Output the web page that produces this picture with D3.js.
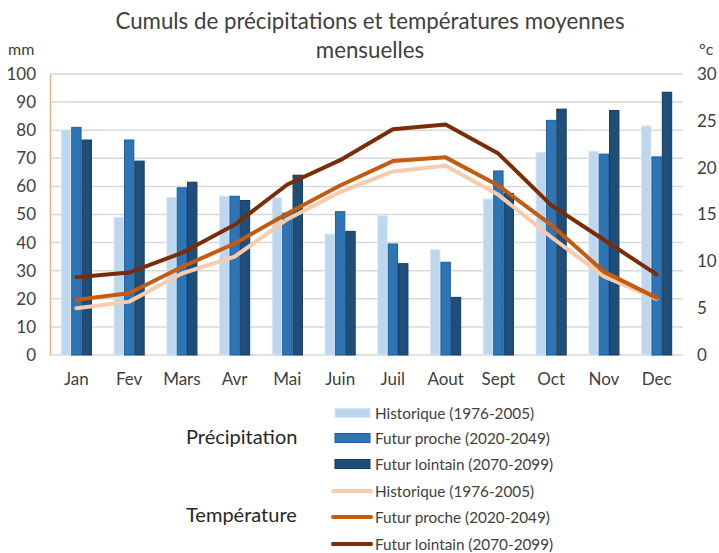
<!DOCTYPE html>
<html>
<head>
<meta charset="utf-8">
<script src="https://cdn.jsdelivr.net/npm/d3@7.9.0/dist/d3.min.js"></script>
<style>
  body { margin: 0; background: #fff; }
  svg { font-family: Lato, "Open Sans", sans-serif; }
</style>
</head>
<body>
<svg id="chart" width="719" height="553"></svg>
<script>
// months on the x axis
const months = ['Jan', 'Fev', 'Mars', 'Avr', 'Mai', 'Juin', 'Juil', 'Aout', 'Sept', 'Oct', 'Nov', 'Dec'];

// precipitation (mm)
const precipHisto = [80, 49, 56, 56.5, 56, 43, 49.5, 37.5, 55.5, 72, 72.5, 81.5];
const precipProche = [81, 76.5, 59.5, 56.5, 50.5, 51, 39.5, 33, 65.5, 83.5, 71.5, 70.5];
const precipLointain = [76.5, 69, 61.5, 55, 64, 44, 32.5, 20.5, 57.5, 87.5, 87, 93.5];

// temperature (°C)
const tempHisto = [5.0, 5.7, 8.7, 10.5, 14.5, 17.4, 19.6, 20.2, 17.1, 12.6, 8.4, 6.0];
const tempProche = [5.9, 6.6, 9.4, 11.9, 15.1, 18.1, 20.7, 21.1, 18.1, 13.9, 8.9, 6.1];
const tempLointain = [8.3, 8.8, 10.9, 13.9, 18.2, 20.8, 24.1, 24.6, 21.5, 16.0, 12.3, 8.6];

const leftTicks = [0, 10, 20, 30, 40, 50, 60, 70, 80, 90, 100];
const rightTicks = [0, 5, 10, 15, 20, 25, 30];

const seriesNames = ['Historique (1976-2005)', 'Futur proche (2020-2049)', 'Futur lointain (2070-2099)'];
const barColors = ['#bdd7ee', '#2e75b6', '#1f4e79'];
const barStrokes = ['#d6e6f4', '#1f5f9c', '#163a5e'];
const lineColors = ['#f8cbad', '#c55a11', '#7b2c06'];

const svg = d3.select('#chart');
const plotL = 50, plotR = 683, plotT = 74, plotB = 355;

const x = d3.scaleBand().domain(months).range([plotL, plotR])
  .paddingInner(0.41).paddingOuter(0.205);
const x1 = d3.scaleBand().domain([0, 1, 2]).range([0, x.bandwidth()]);
const yL = d3.scaleLinear().domain([0, 100]).range([plotB, plotT]);
const yR = d3.scaleLinear().domain([0, 30]).range([plotB, plotT]);

// title
svg.append('text').attr('x', 370).attr('y', 29).attr('text-anchor', 'middle')
  .attr('font-size', 22.3).attr('fill', '#404040')
  .text('Cumuls de précipitations et températures moyennes');
svg.append('text').attr('x', 370).attr('y', 58).attr('text-anchor', 'middle')
  .attr('font-size', 22.3).attr('fill', '#404040')
  .text('mensuelles');

svg.append('text').attr('x', 8).attr('y', 55).attr('font-size', 16).attr('fill', '#404040').text('mm');
svg.append('text').attr('x', 699).attr('y', 55).attr('font-size', 16).attr('fill', '#404040').text('°c');

// gridlines
svg.append('g').selectAll('line').data(leftTicks).join('line')
  .attr('x1', plotL).attr('x2', plotR)
  .attr('y1', d => yL(d)).attr('y2', d => yL(d))
  .attr('stroke', '#d9d9d9').attr('stroke-width', 1.5);

// left axis
const axL = svg.append('g').attr('transform', `translate(${plotL},0)`)
  .call(d3.axisLeft(yL).tickValues(leftTicks).tickSize(0).tickSizeOuter(0).tickPadding(14));
axL.select('.domain').attr('stroke', '#f4b183').attr('stroke-width', 1.5);
axL.selectAll('text').attr('font-size', 17).attr('fill', '#404040');
axL.attr('font-family', null);

// right axis
const axR = svg.append('g').attr('transform', `translate(${plotR},0)`)
  .call(d3.axisRight(yR).tickValues(rightTicks).tickSize(0).tickSizeOuter(0).tickPadding(14));
axR.select('.domain').remove();
axR.selectAll('text').attr('font-size', 17).attr('fill', '#404040');
axR.attr('font-family', null);

// bars
const precip = [precipHisto, precipProche, precipLointain];
precip.forEach((vals, s) => {
  svg.append('g').selectAll('rect').data(vals).join('rect')
    .attr('x', (d, i) => x(months[i]) + x1(s) + 0.5)
    .attr('y', d => yL(d))
    .attr('width', x1.bandwidth() - 1)
    .attr('height', d => yL(0) - yL(d))
    .attr('fill', barColors[s])
    .attr('stroke', barStrokes[s]).attr('stroke-width', 1);
});

// month labels
svg.append('g').selectAll('text').data(months).join('text')
  .attr('x', d => x(d) + x.bandwidth() / 2).attr('y', 385)
  .attr('text-anchor', 'middle').attr('font-size', 17).attr('fill', '#404040')
  .text(d => d);

// temperature lines
const temps = [tempHisto, tempProche, tempLointain];
const line = d3.line()
  .x((d, i) => x(months[i]) + x.bandwidth() / 2)
  .y(d => yR(d));
temps.forEach((vals, s) => {
  svg.append('path').datum(vals)
    .attr('d', line).attr('fill', 'none')
    .attr('stroke', lineColors[s]).attr('stroke-width', 4)
    .attr('stroke-linejoin', 'round').attr('stroke-linecap', 'round');
});

// legend
const legend = svg.append('g');
const rowY = [413, 438, 464, 491, 517, 544];
legend.append('text').attr('x', 186).attr('y', 444).attr('font-size', 20).attr('fill', '#262626').text('Précipitation');
legend.append('text').attr('x', 186).attr('y', 522).attr('font-size', 20).attr('fill', '#262626').text('Température');
seriesNames.forEach((name, s) => {
  const yy = rowY[s];
  legend.append('rect').attr('x', 335).attr('y', yy - 4.5).attr('width', 35).attr('height', 9)
    .attr('fill', barColors[s]).attr('stroke', barStrokes[s]);
  legend.append('text').attr('x', 375).attr('y', yy + 6).attr('font-size', 15.3).attr('fill', '#404040').text(name);
});
seriesNames.forEach((name, s) => {
  const yy = rowY[s + 3];
  legend.append('line').attr('x1', 333).attr('x2', 371).attr('y1', yy).attr('y2', yy)
    .attr('stroke', lineColors[s]).attr('stroke-width', 4).attr('stroke-linecap', 'round');
  legend.append('text').attr('x', 375).attr('y', yy + 6).attr('font-size', 15.3).attr('fill', '#404040').text(name);
});
</script>
</body>
</html>
